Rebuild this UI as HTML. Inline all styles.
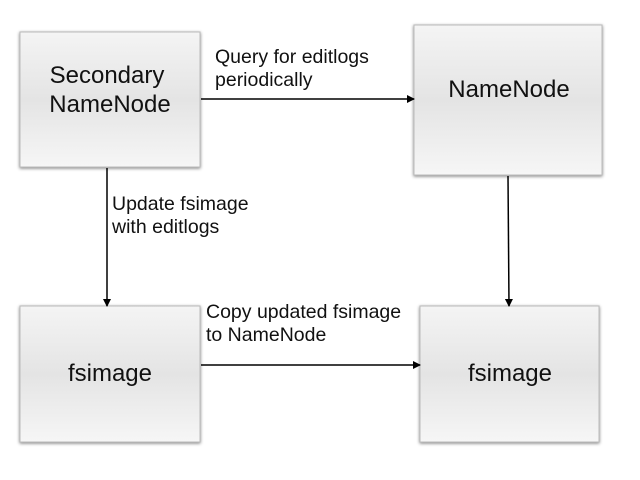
<!DOCTYPE html>
<html><head><style>
html,body{margin:0;padding:0;background:#fff;width:640px;height:480px;overflow:hidden}
svg{display:block}
text{font-family:"Liberation Sans",sans-serif;fill:#111}
</style></head><body>
<svg width="640" height="480" viewBox="0 0 640 480">
<defs>
<linearGradient id="g" x1="0" y1="0" x2="0" y2="1">
<stop offset="0" stop-color="#f4f4f4"/>
<stop offset="0.5" stop-color="#e4e4e4"/>
<stop offset="1" stop-color="#f6f6f6"/>
</linearGradient>
<filter id="s" x="-10%" y="-10%" width="120%" height="120%">
<feGaussianBlur in="SourceAlpha" stdDeviation="1.5"/>
<feOffset dx="0" dy="1"/>
<feComponentTransfer><feFuncA type="linear" slope="0.5"/></feComponentTransfer>
<feMerge><feMergeNode/><feMergeNode in="SourceGraphic"/></feMerge>
</filter>
<marker id="a" markerWidth="8" markerHeight="8" refX="7" refY="4" orient="auto" markerUnits="userSpaceOnUse">
<path d="M0,0 L8,4 L0,8 z" fill="#000"/>
</marker>
</defs>
<rect x="20" y="32" width="180" height="135" fill="url(#g)" stroke="#bbb" stroke-width="1" filter="url(#s)"/>
<rect x="414" y="25" width="188" height="150" fill="url(#g)" stroke="#bbb" stroke-width="1" filter="url(#s)"/>
<rect x="20" y="306" width="180" height="136" fill="url(#g)" stroke="#bbb" stroke-width="1" filter="url(#s)"/>
<rect x="420" y="306" width="179" height="136" fill="url(#g)" stroke="#bbb" stroke-width="1" filter="url(#s)"/>
<text x="107" y="83" font-size="24" text-anchor="middle">Secondary</text>
<text x="110" y="112" font-size="24" text-anchor="middle">NameNode</text>
<text x="509" y="97" font-size="24" text-anchor="middle">NameNode</text>
<text x="110" y="381" font-size="24" text-anchor="middle">fsimage</text>
<text x="510" y="381" font-size="24" text-anchor="middle">fsimage</text>
<line x1="201" y1="99" x2="414" y2="99" stroke="#000" stroke-width="1.5" marker-end="url(#a)"/>
<line x1="107" y1="168" x2="107" y2="306" stroke="#000" stroke-width="1.5" marker-end="url(#a)"/>
<line x1="508" y1="176" x2="509" y2="306" stroke="#000" stroke-width="1.5" marker-end="url(#a)"/>
<line x1="201" y1="365" x2="420" y2="365" stroke="#000" stroke-width="1.5" marker-end="url(#a)"/>
<text x="215" y="63" font-size="19.5">Query for editlogs</text>
<text x="215" y="86" font-size="19.5">periodically</text>
<text x="112" y="210" font-size="19.5">Update fsimage</text>
<text x="112" y="233" font-size="19.5">with editlogs</text>
<text x="206" y="318" font-size="19.5">Copy updated fsimage</text>
<text x="206" y="341" font-size="19.5">to NameNode</text>
</svg>
</body></html>
